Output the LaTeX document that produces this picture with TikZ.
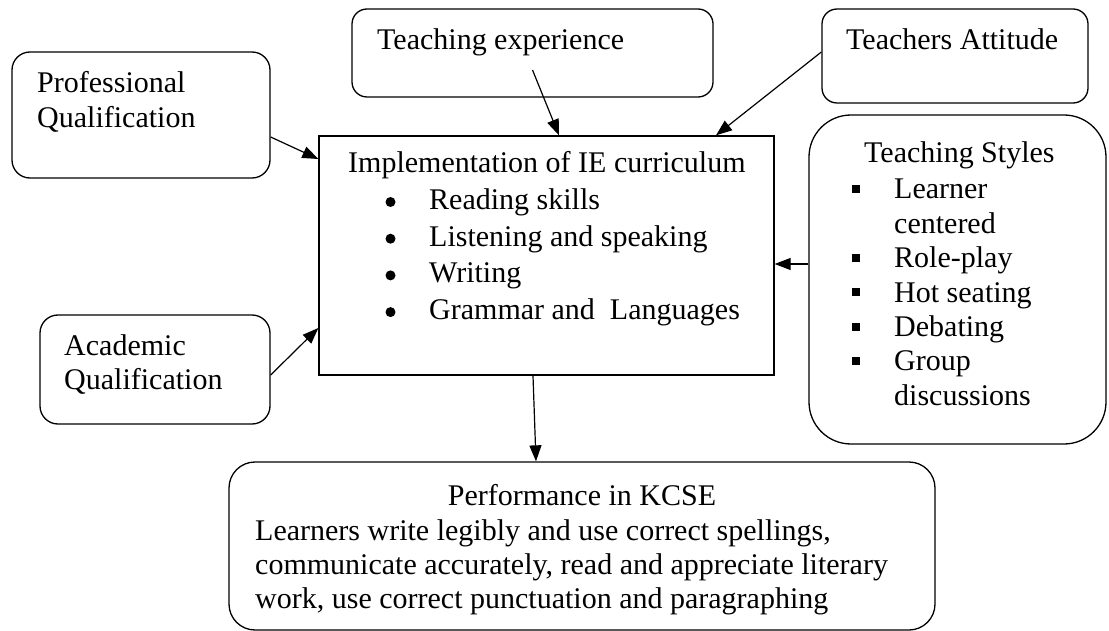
\documentclass[tikz,border=0pt]{standalone}
\usepackage{fontspec}
\setmainfont{Liberation Serif}
\usetikzlibrary{arrows.meta}

\newcommand{\rows}[1]{\begin{tabular}[t]{@{}l@{}}#1\end{tabular}}
\newcommand{\sqbullet}{\rule[6pt]{8pt}{8pt}}

\begin{document}
\begin{tikzpicture}[x=1pt, y=-1pt,
    box/.style={draw, line width=1.3pt, inner sep=0pt},
    txt/.style={anchor=base west, inner sep=0pt, font=\fontsize{30}{35}\selectfont},
    arr/.style={-{Triangle[length=16pt, width=12pt]}, line width=1.2pt}]
    \useasboundingbox (0, 0) rectangle (1109, 631);

    % boxes
    \node (prof) at (141, 115) [box, rounded corners=18pt, minimum width=258pt, minimum height=126pt] {};
    \node (exper) at (532.5, 53) [box, rounded corners=15pt, minimum width=361pt, minimum height=88pt] {};
    \node (attit) at (955, 56) [box, rounded corners=15pt, minimum width=266pt, minimum height=94pt] {};
    \node (impl) at (546.5, 255.5) [box, minimum width=455pt, minimum height=239pt] {};
    \node (styles) at (957.5, 279.5) [box, rounded corners=42pt, minimum width=297pt, minimum height=329pt] {};
    \node (acad) at (155, 369.5) [box, rounded corners=18pt, minimum width=230pt, minimum height=109pt] {};
    \node (perf) at (582, 546) [box, rounded corners=26pt, minimum width=706pt, minimum height=168pt] {};

    % texts
    \node (proftxt) at (37, 93) [txt] {\rows{Professional\\Qualification}};
    \node (expertxt) at (377, 50) [txt] {Teaching experience};
    \node (attittxt) at (846, 50) [txt] {Teachers Attitude};
    \node (impltxt) at (348, 173) [txt] {Implementation of IE curriculum};
    \node (impllist) at (429, 209.5) [txt, font=\fontsize{30}{36.7}\selectfont]
        {\rows{Reading skills\\
               Listening and speaking\\
               Writing\\
               Grammar and\ \ Languages}};
    \foreach \i in {0,...,3}
        \fill (390.5, 202+36.7*\i) circle (5pt);
    \node (stylestxt) at (864, 163) [txt] {Teaching Styles};
    \node (styleslist) at (852, 199) [txt, font=\fontsize{30}{34.4}\selectfont]
        {\begin{tabular}[t]{@{}l@{\hspace{34pt}}l@{}}
            \sqbullet & Learner\\
                      & centered\\
            \sqbullet & Role-play\\
            \sqbullet & Hot seating\\
            \sqbullet & Debating\\
            \sqbullet & Group\\
                      & discussions
        \end{tabular}};
    \node (acadtxt) at (64, 355) [txt] {\rows{Academic\\Qualification}};
    \node (perftitle) at (582, 505) [txt, anchor=base] {Performance in KCSE};
    \node (perftxt) at (255, 540) [txt, font=\fontsize{30}{34}\selectfont]
        {\rows{Learners write legibly and use correct spellings,\\
               communicate accurately, read and appreciate literary\\
               work, use correct punctuation and paragraphing}};

    % arrows
    \draw [arr] ([yshift=-17pt]exper.center) -- ([xshift=12.5pt]impl.north);
    \draw [arr] ([yshift=4pt]attit.west) -- ([xshift=169.5pt]impl.north);
    \draw [arr] ([yshift=-22pt]prof.east) -- ([yshift=96.5pt]impl.west);
    \draw [arr] ([yshift=-5.5pt]acad.east) -- ([yshift=-72.5pt]impl.west);
    \draw [arr] ([yshift=15.5pt]styles.west) -- ([yshift=-8.5pt]impl.east);
    \draw [arr] ([xshift=-13.5pt]impl.south) -- ([xshift=-46pt]perf.north);
\end{tikzpicture}
\end{document}
